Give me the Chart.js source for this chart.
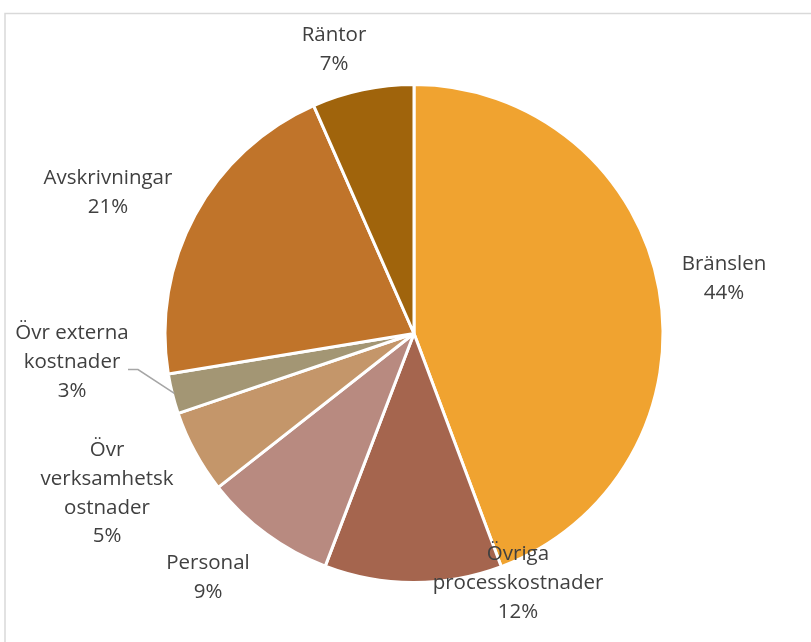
<!DOCTYPE html>
<html>
<head>
    <title>Kostnader</title>
    <script src="https://cdn.jsdelivr.net/npm/chart.js"></script>
    <style>
        html, body { margin: 0; padding: 0; background: #fff; }
        #wrap { width: 811px; height: 642px; position: relative; }
    </style>
</head>
<body>
    <div id="wrap"><canvas id="Chart" width="811" height="642"></canvas></div>
    <script>
        // kategorier och andelar (procent)
        var categories = ['Bränslen', 'Övriga processkostnader', 'Personal', 'Övr verksamhetskostnader', 'Övr externa kostnader', 'Avskrivningar', 'Räntor'];
        var shares = [44.3, 11.5, 8.6, 5.4, 2.6, 21.0, 6.6];
        // etiketternas radbrytning som i originalet
        var labelLines = [
            ['Bränslen'],
            ['Övriga', 'processkostnader'],
            ['Personal'],
            ['Övr', 'verksamhetsk', 'ostnader'],
            ['Övr externa', 'kostnader'],
            ['Avskrivningar'],
            ['Räntor']
        ];
        var colors = ['#F0A330', '#A5654E', '#B88A80', '#C4966A', '#A39674', '#C0742A', '#A0640C'];

        // etikettpositioner relativt tårtans mitt (dx, dy för första raden)
        var labelPos = [
            [310, -69], [104, 221], [-206, 230], [-307, 117], [-342, 0], [-306, -155], [-80, -298]
        ];
        var lineH = 28.7;

        var labelPlugin = {
            id: 'pieLabels',
            afterDatasetsDraw: function(chart) {
                var ctx = chart.ctx;
                var meta = chart.getDatasetMeta(0);
                var cx = meta.data[0].x, cy = meta.data[0].y;
                var total = shares.reduce(function(a, b) { return a + b; }, 0);
                ctx.save();
                ctx.font = '20.5px "Open Sans"';
                ctx.fillStyle = '#404040';
                ctx.textAlign = 'center';
                ctx.textBaseline = 'middle';
                labelLines.forEach(function(lines, i) {
                    var x = cx + labelPos[i][0];
                    var y = cy + labelPos[i][1];
                    var all = lines.concat([Math.round(shares[i] / total * 100) + '%']);
                    all.forEach(function(t, j) {
                        ctx.fillText(t, x, y + j * lineH);
                    });
                });
                // hänvisningslinje för Övr externa kostnader
                var a = meta.data[4];
                var mid = (a.startAngle + a.endAngle) / 2;
                var ex = cx + Math.cos(mid) * (a.outerRadius - 2);
                var ey = cy + Math.sin(mid) * (a.outerRadius - 2);
                ctx.strokeStyle = '#A6A6A6';
                ctx.lineWidth = 1.5;
                ctx.beginPath();
                ctx.moveTo(cx - 286, cy + 36);
                ctx.lineTo(cx - 276, cy + 36);
                ctx.lineTo(ex, ey);
                ctx.stroke();
                ctx.restore();
            },
            beforeDraw: function(chart) {
                var ctx = chart.ctx;
                ctx.save();
                ctx.fillStyle = '#fff';
                ctx.fillRect(0, 0, chart.width, chart.height);
                ctx.strokeStyle = '#D9D9D9';
                ctx.lineWidth = 1.5;
                ctx.strokeRect(5, 13.5, chart.width + 10, chart.height + 10);
                ctx.restore();
            }
        };

        var ctx = document.getElementById('Chart').getContext('2d');
        var pieChart = new Chart(ctx, {
            type: 'pie',
            data: {
                labels: categories,
                datasets: [{
                    data: shares,
                    backgroundColor: colors,
                    borderColor: '#ffffff',
                    borderWidth: 3
                }]
            },
            options: {
                responsive: false,
                animation: false,
                layout: { padding: { top: 83, bottom: 58, left: 117, right: 100 } },
                plugins: {
                    legend: { display: false },
                    tooltip: { enabled: false }
                }
            },
            plugins: [labelPlugin]
        });
    </script>
</body>
</html>
